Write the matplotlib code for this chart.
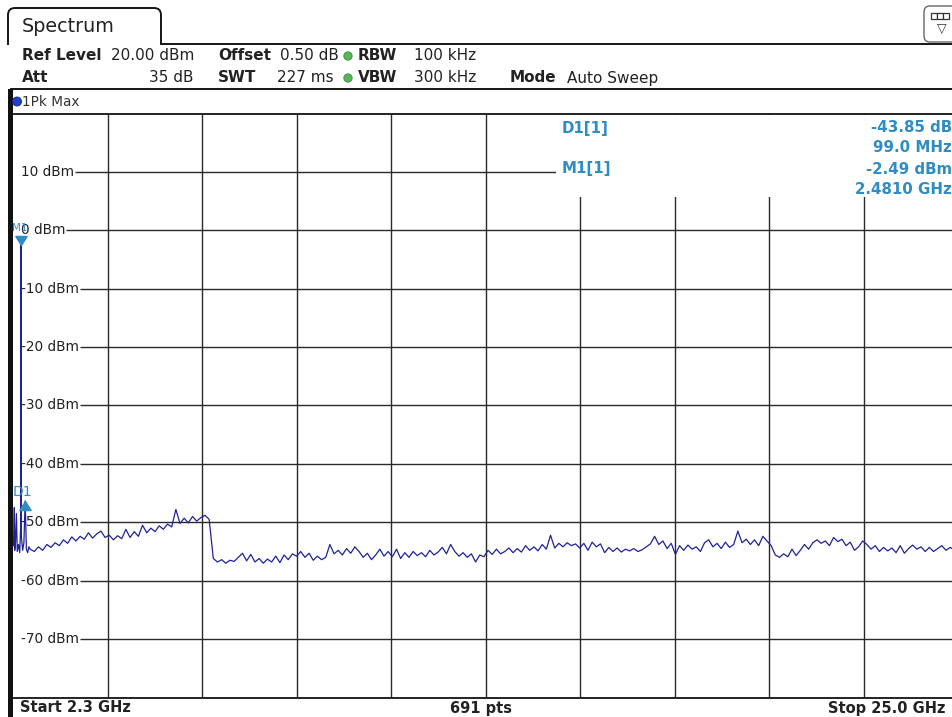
import numpy as np
import matplotlib
matplotlib.use("Agg")
import matplotlib.pyplot as plt
from matplotlib.patches import Rectangle, FancyBboxPatch, PathPatch, Circle
from matplotlib.path import Path

# ---------------- data ----------------
start_ghz = 2.3
stop_ghz = 25.0
ref_level_dbm = 20.0
range_db = 100.0
n_div = 10
n_points = 691

level_ticks = [10, 0, -10, -20, -30, -40, -50, -60, -70]
level_labels = ["10 dBm", "0 dBm", "-10 dBm", "-20 dBm", "-30 dBm",
                "-40 dBm", "-50 dBm", "-60 dBm", "-70 dBm"]

# fine detail near the start of the sweep (GHz, dBm)
start_freqs = [2.30, 2.32, 2.33, 2.35, 2.37, 2.39, 2.42, 2.45, 2.47, 2.481,
               2.49, 2.52, 2.55, 2.58, 2.61, 2.64, 2.67]
start_levels = [-54.0, -47.5, -54.8, -53.0, -48.5, -55.0, -53.8, -55.2, -51.0, -2.49,
                -52.5, -54.8, -53.5, -46.34, -54.6, -55.2, -54.2]

# rest of the trace, 0.1 GHz steps from 2.7 GHz to 25.0 GHz
main_first_ghz = 2.7
trace_a = [-54.6, -55.0, -54.2, -54.8, -53.8, -54.3, -53.5, -54.0, -53.0, -53.6,
           -52.5, -53.2, -52.4, -52.9, -51.8, -52.7, -52.0, -51.5, -52.6, -52.2,
           -53.0, -52.3, -52.8, -51.2, -52.6, -51.6, -52.4, -50.5, -51.8, -51.0,
           -51.6, -50.6, -51.2, -50.3, -50.8, -47.8, -50.2, -49.3, -50.1, -49.0,
           -49.8, -49.2, -48.8, -49.5]
trace_b = [-56.2, -56.8, -56.4, -57.0, -56.5, -56.7, -56.0, -55.3, -56.6, -55.5,
           -56.8, -56.2, -57.0, -56.3, -56.8, -55.8, -56.9, -55.6, -56.4, -55.4,
           -55.8, -55.0, -56.0, -55.3, -56.5, -55.8, -56.4, -56.0, -53.8, -55.4,
           -54.8, -55.6, -54.5, -55.3, -54.2, -55.0, -56.0, -55.3, -56.4, -55.6,
           -54.6, -55.8, -55.0]
trace_c = [-55.9, -54.6, -56.2, -55.2, -56.0, -55.0, -55.7, -55.2, -55.9, -54.8,
           -55.6, -55.1, -54.3, -55.4, -53.8, -55.0, -55.8, -55.2, -56.0, -55.4,
           -56.8, -55.6, -55.9, -54.8, -55.5, -54.6, -55.4, -55.0, -54.4, -55.2,
           -54.5, -55.1, -54.0, -54.8, -54.2, -54.9, -53.8, -54.6, -52.2, -54.4,
           -53.6, -54.2, -53.5, -54.0]
trace_d = [-53.7, -54.4, -53.6, -54.8, -53.4, -54.2, -53.7, -55.2, -54.3, -55.0,
           -54.4, -55.1, -54.6, -54.9, -54.5, -55.0, -54.7, -54.2, -53.7, -52.4,
           -53.8, -53.2, -54.5, -53.6, -55.5, -54.0, -54.8, -53.9, -54.6, -54.2,
           -55.0, -53.5, -53.0, -54.2, -53.6, -54.5, -53.4, -54.3, -53.8, -51.5,
           -53.5, -52.9, -53.8, -53.0, -54.0, -52.4, -53.2, -54.0]
trace_e = [-55.6, -56.0, -55.4, -55.9, -54.6, -55.7, -54.8, -53.8, -54.6, -53.5,
           -53.0, -53.6, -53.2, -54.0, -52.6, -53.3, -52.9, -54.0, -53.4, -54.8,
           -54.2, -53.2, -53.8, -54.6, -54.0, -55.0, -54.3, -54.9, -54.4, -55.2,
           -54.0, -55.3, -54.5, -53.9, -54.6, -54.2, -55.0, -54.3, -55.0, -54.5,
           -54.0, -54.8, -54.3, -54.7, -54.5]

m1_freq_ghz = 2.481
m1_level_dbm = -2.49
d1_delta_db = -43.85
d1_delta_mhz = 99.0

# ---------------- figure ----------------
W, H = 953, 717
fig = plt.figure(figsize=(W / 100, H / 100), dpi=100)
fig.patch.set_facecolor("white")

grid_col = "#2a2a2a"
trace_col = "#1f2395"
mk_col = "#2f8cc4"
txt_col = "#222222"

ax = fig.add_axes([13.5 / W, 1 - 697.5 / H, 945 / W, 584 / H])
ax.set_zorder(1)
ax.set_xlim(start_ghz, stop_ghz)
ax.set_ylim(ref_level_dbm - range_db, ref_level_dbm)
ax.set_xticks([])
ax.set_yticks([])
for s in ("left", "right"):
    ax.spines[s].set_visible(False)
for s in ("top", "bottom"):
    ax.spines[s].set_color("#111111")
    ax.spines[s].set_linewidth(1.3)

span = stop_ghz - start_ghz
for k in range(1, n_div):
    ax.axvline(start_ghz + k * span / n_div, color=grid_col, lw=1.0, zorder=1)

# level labels + horizontal grid lines starting after each label
lab_artists = []
for lev, lab in zip(level_ticks, level_labels):
    t = ax.annotate(lab, xy=(21, lev), xycoords=("figure pixels", "data"),
                    ha="left", va="center", fontsize=9.8, color=txt_col, zorder=2)
    lab_artists.append(t)
fig.canvas.draw()
rend = fig.canvas.get_renderer()
inv = ax.transData.inverted()
for lev, t in zip(level_ticks, lab_artists):
    bb = t.get_window_extent(rend)
    x0 = inv.transform((bb.x1 + 1, 0))[0]
    ax.hlines(lev, x0, stop_ghz, color=grid_col, lw=1.0, zorder=1)

# trace
main_levels = trace_a + trace_b + trace_c + trace_d + trace_e
main_freqs = np.linspace(main_first_ghz, stop_ghz, len(main_levels))
freqs = np.concatenate([start_freqs, main_freqs])
levels = np.concatenate([start_levels, main_levels])
ax.plot(freqs, levels, color=trace_col, lw=0.9, zorder=3)

# markers
down_tri = [(0, 0), (-0.5, 0.8), (0.5, 0.8), (0, 0)]
up_tri = [(0, 0), (-0.5, -0.8), (0.5, -0.8), (0, 0)]
d1_freq = m1_freq_ghz + d1_delta_mhz / 1000.0
d1_level = m1_level_dbm + d1_delta_db
ax.plot([m1_freq_ghz], [m1_level_dbm], marker=down_tri, ms=13, color=mk_col,
        ls="none", zorder=5, clip_on=False)
ax.plot([d1_freq], [d1_level], marker=up_tri, ms=13, color=mk_col,
        ls="none", zorder=5, clip_on=False)
ax.annotate("M1", xy=(m1_freq_ghz, m1_level_dbm), xytext=(-1, 12),
            textcoords="offset points", ha="center", va="center",
            fontsize=7.5, color=mk_col, zorder=6)
ax.annotate("D1", xy=(d1_freq, d1_level), xytext=(-2, 6.5),
            textcoords="offset points", ha="center", va="center",
            fontsize=10, color=mk_col, zorder=6)

# ---------------- overlay (screen furniture) ----------------
ov = fig.add_axes([0, 0, 1, 1])
ov.set_zorder(2)
ov.set_xlim(0, W)
ov.set_ylim(H, 0)
ov.axis("off")
ov.patch.set_visible(False)

lc = "#151515"
# tab
verts = [(8, 45), (8, 15), (8, 8), (15, 8), (154, 8), (161, 8), (161, 15), (161, 44), (953, 44)]
codes = [Path.MOVETO, Path.LINETO, Path.CURVE3, Path.CURVE3, Path.LINETO,
         Path.CURVE3, Path.CURVE3, Path.LINETO, Path.LINETO]
ov.add_patch(PathPatch(Path(verts, codes), fill=False, ec=lc, lw=1.4))
ov.text(22, 27, "Spectrum", ha="left", va="center", fontsize=13.8, color=txt_col)

# icon box top-right
ov.add_patch(FancyBboxPatch((924, 6), 36, 36, boxstyle="round,pad=0,rounding_size=6",
                            fc="white", ec="#666666", lw=1.0))
for i in range(3):
    ov.add_patch(Rectangle((931 + i * 6, 13), 6, 6, fc="white", ec="#333333", lw=0.9))
ov.text(942, 29, "\u25bd", ha="center", va="center", fontsize=9, color="#333333")

# header info
hdr_fs = 11
def htxt(x, y, s, bold=False, ha="left"):
    ov.text(x, y, s, ha=ha, va="center", fontsize=hdr_fs, color=txt_col,
            fontweight="bold" if bold else "normal")

htxt(22, 56, "Ref Level", True)
htxt(194, 56, "20.00 dBm", ha="right")
htxt(218, 56, "Offset", True)
htxt(339, 56, "0.50 dB", ha="right")
htxt(358, 56, "RBW", True)
htxt(414, 56, "100 kHz")
htxt(22, 78, "Att", True)
htxt(194, 78, "35 dB", ha="right")
htxt(218, 78, "SWT", True)
htxt(334, 78, "227 ms", ha="right")
htxt(358, 78, "VBW", True)
htxt(414, 78, "300 kHz")
htxt(510, 78, "Mode", True)
htxt(567, 78, "Auto Sweep")
for yy in (56, 78):
    ov.add_patch(Circle((348, yy), 4.2, fc="#57b55a", ec="#3d8f40", lw=0.6))

# separator lines and left border
ov.plot([11, 953], [89, 89], color=lc, lw=1.4)
ov.add_patch(Rectangle((8.5, 89), 4.5, H - 89, fc="#111111", ec="none"))

# trace info row
ov.add_patch(Circle((17, 101.5), 4.5, fc="#2340c8", ec="#102080", lw=0.6))
ov.text(22, 101.5, "1Pk Max", ha="left", va="center", fontsize=9.8, color="#333333")

# marker readout box
ov.add_patch(Rectangle((556, 114.8), 402, 82, fc="white", ec="none"))
mfs = 10.8
mx_r = 952
ov.text(562, 128, "D1[1]", ha="left", va="center", fontsize=mfs, fontweight="bold", color=mk_col)
ov.text(mx_r, 128, f"{d1_delta_db:.2f} dB", ha="right", va="center", fontsize=mfs,
        fontweight="bold", color=mk_col)
ov.text(mx_r, 148, f"{d1_delta_mhz:.1f} MHz", ha="right", va="center", fontsize=mfs,
        fontweight="bold", color=mk_col)
ov.text(562, 169, "M1[1]", ha="left", va="center", fontsize=mfs, fontweight="bold", color=mk_col)
ov.text(mx_r, 169, f"{m1_level_dbm:.2f} dBm", ha="right", va="center", fontsize=mfs,
        fontweight="bold", color=mk_col)
ov.text(mx_r, 189, f"{m1_freq_ghz:.4f} GHz", ha="right", va="center", fontsize=mfs,
        fontweight="bold", color=mk_col)

# status bar
sfs = 10.5
ov.text(20, 708, f"Start {start_ghz:.1f} GHz", ha="left", va="center", fontsize=sfs,
        fontweight="bold", color=txt_col)
ov.text(481, 708, f"{n_points} pts", ha="center", va="center", fontsize=sfs,
        fontweight="bold", color=txt_col)
ov.text(946, 708, f"Stop {stop_ghz:.1f} GHz", ha="right", va="center", fontsize=sfs,
        fontweight="bold", color=txt_col)

fig.savefig("out.png", dpi=100, facecolor="white")
